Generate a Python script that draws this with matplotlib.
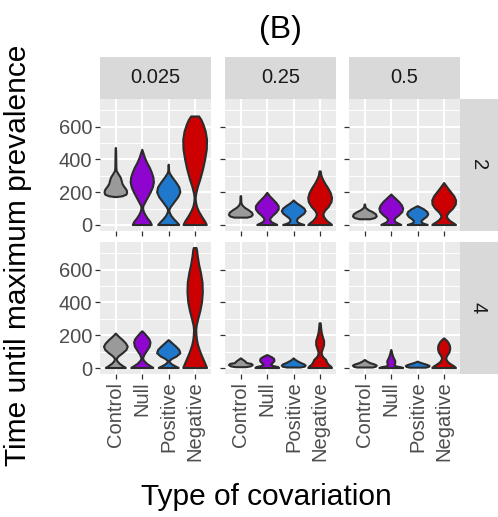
import matplotlib
matplotlib.use("Agg")
import matplotlib.pyplot as plt

# ----------------------------------------------------------
# DATA: violin outlines (time value, half width in category units)
# ----------------------------------------------------------

covariation = ["Control", "Null", "Positive", "Negative"]
fill_colors = ["#9a9a9a", "#8e05cf", "#1f78cc", "#cc0000"]

rate_levels = ["0.025", "0.25", "0.5"]
host_levels = ["2", "4"]

y_ticks = [0, 200, 400, 600]

p2_0025 = {
    "Control": ([170, 175, 185, 200, 215, 230, 250, 270, 290, 310, 330, 350, 400, 450, 470],
                [0.0, 0.25, 0.40, 0.43, 0.40, 0.33, 0.25, 0.22, 0.18, 0.10, 0.03, 0.02, 0.015, 0.01, 0.0]),
    "Null": ([0, 20, 40, 60, 80, 100, 115, 140, 170, 200, 230, 260, 290, 320, 350, 380, 410, 440, 459],
             [0.36, 0.30, 0.20, 0.12, 0.06, 0.03, 0.04, 0.12, 0.22, 0.32, 0.40, 0.44, 0.42, 0.36, 0.28, 0.18, 0.10, 0.04, 0.0]),
    "Positive": ([0, 15, 35, 55, 75, 90, 110, 140, 170, 200, 230, 260, 290, 315, 330, 368],
                 [0.40, 0.32, 0.20, 0.10, 0.04, 0.02, 0.08, 0.22, 0.36, 0.44, 0.40, 0.28, 0.14, 0.04, 0.015, 0.0]),
    "Negative": ([0, 20, 50, 80, 110, 140, 165, 190, 230, 280, 340, 400, 460, 520, 570, 610, 640, 662],
                 [0.44, 0.38, 0.26, 0.15, 0.07, 0.03, 0.02, 0.04, 0.10, 0.20, 0.30, 0.38, 0.44, 0.45, 0.40, 0.32, 0.24, 0.15]),
}

p2_025 = {
    "Control": ([45, 52, 62, 75, 90, 105, 120, 135, 160, 176],
                [0.25, 0.40, 0.45, 0.42, 0.30, 0.15, 0.06, 0.02, 0.015, 0.01]),
    "Null": ([0, 8, 18, 30, 40, 55, 75, 95, 115, 135, 155, 175, 188, 196],
             [0.38, 0.28, 0.16, 0.11, 0.12, 0.20, 0.34, 0.43, 0.43, 0.34, 0.22, 0.10, 0.04, 0.0]),
    "Positive": ([0, 6, 15, 28, 40, 55, 70, 85, 100, 115, 130, 142, 150],
                 [0.40, 0.28, 0.16, 0.12, 0.16, 0.28, 0.40, 0.45, 0.40, 0.28, 0.14, 0.05, 0.0]),
    "Negative": ([0, 10, 25, 45, 65, 85, 110, 140, 165, 195, 225, 255, 280, 300, 320, 327],
                 [0.45, 0.38, 0.26, 0.16, 0.12, 0.18, 0.32, 0.43, 0.45, 0.40, 0.30, 0.18, 0.10, 0.05, 0.03, 0.02]),
}

p2_05 = {
    "Control": ([35, 42, 52, 65, 78, 90, 102, 112, 125],
                [0.20, 0.38, 0.45, 0.42, 0.30, 0.15, 0.05, 0.02, 0.01]),
    "Null": ([0, 8, 18, 30, 42, 60, 80, 100, 120, 140, 160, 175, 186],
             [0.38, 0.28, 0.16, 0.12, 0.16, 0.30, 0.42, 0.45, 0.40, 0.30, 0.17, 0.07, 0.0]),
    "Positive": ([0, 6, 14, 24, 36, 50, 65, 80, 95, 107, 115],
                 [0.38, 0.26, 0.16, 0.14, 0.22, 0.34, 0.40, 0.36, 0.24, 0.10, 0.0]),
    "Negative": ([0, 10, 25, 40, 55, 75, 100, 125, 150, 175, 200, 225, 245, 256],
                 [0.45, 0.36, 0.22, 0.13, 0.10, 0.18, 0.34, 0.44, 0.45, 0.38, 0.26, 0.14, 0.05, 0.0]),
}

p4_0025 = {
    "Control": ([0, 10, 25, 40, 55, 70, 90, 110, 130, 150, 170, 190, 205, 210],
                [0.38, 0.28, 0.15, 0.06, 0.03, 0.10, 0.26, 0.40, 0.45, 0.38, 0.26, 0.12, 0.03, 0.0]),
    "Null": ([0, 10, 25, 45, 60, 80, 105, 130, 155, 175, 195, 215, 224],
             [0.42, 0.32, 0.18, 0.06, 0.03, 0.08, 0.18, 0.28, 0.31, 0.27, 0.17, 0.06, 0.0]),
    "Positive": ([0, 8, 20, 32, 42, 55, 70, 90, 110, 130, 150, 165, 170],
                 [0.38, 0.28, 0.14, 0.05, 0.03, 0.12, 0.30, 0.44, 0.40, 0.28, 0.14, 0.04, 0.0]),
    "Negative": ([0, 20, 50, 80, 110, 140, 170, 200, 230, 260, 300, 350, 400, 460, 520, 580, 630, 680, 720, 732],
                 [0.45, 0.40, 0.32, 0.24, 0.17, 0.11, 0.07, 0.05, 0.04, 0.06, 0.12, 0.20, 0.26, 0.29, 0.28, 0.22, 0.15, 0.10, 0.07, 0.05]),
}

p4_025 = {
    "Control": ([5, 10, 18, 25, 30, 38, 45, 52, 59],
                [0.20, 0.38, 0.45, 0.40, 0.22, 0.18, 0.12, 0.06, 0.0]),
    "Null": ([0, 6, 12, 20, 30, 42, 55, 65, 73, 79],
             [0.45, 0.40, 0.22, 0.14, 0.20, 0.27, 0.26, 0.18, 0.08, 0.0]),
    "Positive": ([3, 8, 15, 22, 30, 40, 50, 59],
                 [0.25, 0.42, 0.45, 0.40, 0.28, 0.16, 0.06, 0.0]),
    "Negative": ([0, 10, 20, 35, 50, 65, 80, 95, 115, 140, 165, 190, 215, 240, 260, 273],
                 [0.45, 0.40, 0.32, 0.26, 0.22, 0.12, 0.07, 0.06, 0.10, 0.15, 0.15, 0.10, 0.06, 0.04, 0.03, 0.02]),
}

p4_05 = {
    "Control": ([3, 8, 15, 22, 30, 40, 49],
                [0.30, 0.42, 0.45, 0.36, 0.20, 0.08, 0.0]),
    "Null": ([0, 5, 10, 18, 30, 42, 55, 70, 85, 100, 110],
             [0.45, 0.35, 0.18, 0.12, 0.15, 0.15, 0.11, 0.07, 0.04, 0.02, 0.0]),
    "Positive": ([2, 6, 12, 18, 25, 32, 39],
                 [0.30, 0.42, 0.45, 0.38, 0.24, 0.10, 0.0]),
    "Negative": ([0, 10, 22, 35, 50, 62, 75, 95, 115, 135, 155, 170, 181],
                 [0.45, 0.38, 0.26, 0.15, 0.09, 0.08, 0.12, 0.20, 0.23, 0.22, 0.16, 0.08, 0.0]),
}

profiles = {
    ("2", "0.025"): p2_0025, ("2", "0.25"): p2_025, ("2", "0.5"): p2_05,
    ("4", "0.025"): p4_0025, ("4", "0.25"): p4_025, ("4", "0.5"): p4_05,
}

# ----------------------------------------------------------
# FIGURE LAYOUT (ggplot-like facet grid)
# ----------------------------------------------------------

plt.rcParams["font.family"] = ["Liberation Sans", "DejaVu Sans"]

W, H = 498, 517
fig = plt.figure(figsize=(W / 100, H / 100), dpi=100)

col_left = [100, 225, 349]
panel_w = 111
row_top = [99, 242]
panel_h = 132
strip_h = 42
strip_w = 40

y_lo, y_hi = -36.6, 768.6


def px_axes(x, y, w, h):
    return fig.add_axes([x / W, 1 - (y + h) / H, w / W, h / H])


for r, host in enumerate(host_levels):
    for c, rate in enumerate(rate_levels):
        ax = px_axes(col_left[c], row_top[r], panel_w, panel_h)
        ax.set_facecolor("#ebebeb")
        ax.set_xlim(0.4, 4.6)
        ax.set_ylim(y_lo, y_hi)

        # grid lines
        for v in [100, 300, 500, 700]:
            ax.axhline(v, color="white", lw=0.7, zorder=0)
        for v in y_ticks:
            ax.axhline(v, color="white", lw=1.5, zorder=0)
        for k in range(1, 5):
            ax.axvline(k, color="white", lw=1.5, zorder=0)

        panel = profiles[(host, rate)]
        for k, grp in enumerate(covariation):
            vals, half = panel[grp]
            xs = [k + 1 - h for h in half] + [k + 1 + h for h in half[::-1]]
            ys = list(vals) + list(vals[::-1])
            ax.fill(xs, ys, facecolor=fill_colors[k], edgecolor="#2b2b2b",
                    lw=1.5, joinstyle="round", zorder=3)

        for s in ax.spines.values():
            s.set_visible(False)

        ax.set_yticks(y_ticks)
        ax.set_xticks(range(1, 5))
        ax.tick_params(length=3.5, width=0.9, color="#333333",
                       labelsize=14.5, labelcolor="#4d4d4d", pad=2)
        if c == 0:
            ax.set_yticklabels([str(v) for v in y_ticks])
        else:
            ax.set_yticklabels([])
        if r == 1:
            ax.set_xticklabels(covariation, rotation=90, va="top", ha="center")
        else:
            ax.set_xticklabels([])

        # top strips
        if r == 0:
            sax = px_axes(col_left[c], row_top[0] - strip_h, panel_w, strip_h)
            sax.set_facecolor("#d9d9d9")
            sax.set_xticks([])
            sax.set_yticks([])
            for s in sax.spines.values():
                s.set_visible(False)
            sax.text(0.5, 0.5, rate, ha="center", va="center",
                     fontsize=14.5, color="#1a1a1a", transform=sax.transAxes)

    # right strips
    rax = px_axes(col_left[2] + panel_w, row_top[r], strip_w, panel_h)
    rax.set_facecolor("#d9d9d9")
    rax.set_xticks([])
    rax.set_yticks([])
    for s in rax.spines.values():
        s.set_visible(False)
    rax.text(0.45, 0.5, host, ha="center", va="center", rotation=-90,
             fontsize=14.5, color="#1a1a1a", transform=rax.transAxes)

fig.text(280 / W, 1 - 30 / H, "(B)", ha="center", va="center", fontsize=23)
fig.text(18 / W, 1 - 255 / H, "Time until maximum prevalence", ha="center",
         va="center", rotation=90, fontsize=21.5)
fig.text(266 / W, 1 - 497 / H, "Type of covariation", ha="center",
         va="center", fontsize=21.5)

fig.savefig("out.png", dpi=100)
